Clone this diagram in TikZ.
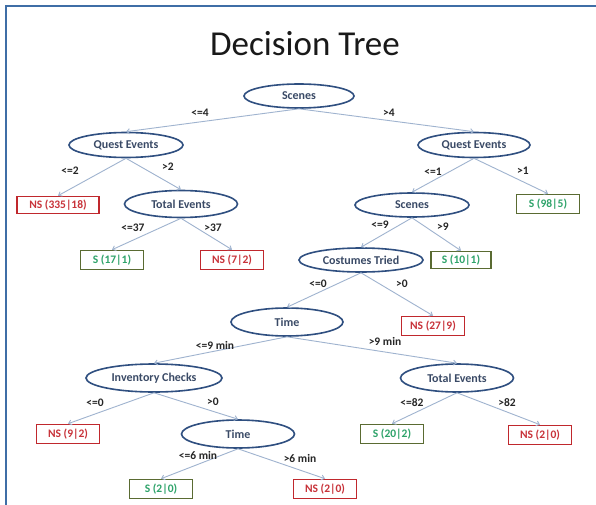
\documentclass[tikz,border=0pt]{standalone}
\usepackage{fontspec}
\setmainfont{Carlito}
\usetikzlibrary{shapes.geometric,arrows.meta}
\definecolor{frameblue}{HTML}{3F6EA6}
\definecolor{ellline}{HTML}{2F4F80}
\definecolor{elltext}{HTML}{3A4A66}
\definecolor{edgecol}{HTML}{9FB3CF}
\definecolor{nsred}{HTML}{C0282D}
\definecolor{nstext}{HTML}{C8333A}
\definecolor{solive}{HTML}{5A6B32}
\definecolor{sgreen}{HTML}{2EA36A}
\tikzset{
  split/.style={ellipse, draw=ellline, line width=1.6pt, text=elltext, inner sep=0pt,
    minimum width=112pt, minimum height=25pt, font=\fontsize{12}{13}\selectfont\bfseries},
  nsleaf/.style={rectangle, draw=nsred, line width=1.6pt, text=nstext, inner sep=0pt,
    minimum width=63pt, minimum height=19pt, font=\fontsize{11.5}{12}\selectfont\bfseries},
  sleaf/.style={rectangle, draw=solive, line width=1.6pt, text=sgreen, inner sep=0pt,
    minimum width=63pt, minimum height=19pt, font=\fontsize{11.5}{12}\selectfont\bfseries},
  cond/.style={text=black!85, inner sep=0pt, font=\fontsize{11.5}{13}\selectfont\bfseries},
  link/.style={draw=edgecol, line width=0.9pt, -{Straight Barb[length=3pt,width=5pt]}},
}
\begin{document}
\begin{tikzpicture}[x=1pt,y=-1pt]
\useasboundingbox (0,0) rectangle (596,505);
\fill[white] (0,0) rectangle (596,505);
\coordinate (ftl) at (6,6);
\coordinate (ftr) at (596,6);
\coordinate (fbl) at (6,505);
\draw[frameblue, line width=2.4pt] (ftr) -- (ftl) -- (fbl);

\node[inner sep=0pt, font=\fontsize{35}{38}\selectfont, text=black!90] (title) at (305,44) {Decision Tree};

% split nodes
\node[split, minimum width=110pt, minimum height=24pt] (scenes) at (299,96) {Scenes};
\node[split, minimum width=114pt] (qel) at (126,145) {Quest Events};
\node[split] (qer) at (474,145) {Quest Events};
\node[split, minimum width=113pt, minimum height=27pt] (tel) at (181,204) {Total Events};
\node[split, minimum width=114pt, minimum height=24pt] (sc2) at (412,205) {Scenes};
\node[split, minimum width=124pt, minimum height=24pt] (cost) at (361,260) {Costumes Tried};
\node[split, minimum width=112pt, minimum height=28pt] (time) at (287,322) {Time};
\node[split, minimum width=136pt, minimum height=28pt] (inv) at (154,378) {Inventory Checks};
\node[split, minimum width=113pt, minimum height=28pt] (ter) at (457,378) {Total Events};
\node[split, minimum width=113pt, minimum height=28pt] (time2) at (238,434) {Time};

% leaves
\node[nsleaf, minimum width=82pt, minimum height=17pt] (l1) at (58,205) {NS (335|18)};
\node[sleaf] (l2) at (112,260) {S (17|1)};
\node[nsleaf] (l3) at (232,260) {NS (7|2)};
\node[sleaf] (l4) at (548,204) {S (98|5)};
\node[sleaf, minimum width=60pt, minimum height=17pt] (l5) at (461,260) {S (10|1)};
\node[nsleaf] (l6) at (433,326) {NS (27|9)};
\node[nsleaf] (l7) at (68,434) {NS (9|2)};
\node[sleaf] (l8) at (392,434) {S (20|2)};
\node[nsleaf] (l9) at (540,435) {NS (2|0)};
\node[sleaf] (l10) at (161,489) {S (2|0)};
\node[nsleaf] (l11) at (325,489) {NS (2|0)};

% connectors
\draw[link] (scenes.south) -- (qel.north);
\draw[link] (scenes.south) -- (qer.north);
\draw[link] (qel.south) -- (l1.north);
\draw[link] (qel.south) -- (tel.north);
\draw[link] (tel.south) -- (l2.north);
\draw[link] (tel.south) -- (l3.north);
\draw[link] (qer.south) -- (sc2.north);
\draw[link] (qer.south) -- (l4.north);
\draw[link] (sc2.south) -- (cost.north);
\draw[link] (sc2.south) -- (l5.north);
\draw[link] (cost.south) -- (time.north);
\draw[link] (cost.south) -- (l6.north);
\draw[link] (time.south) -- (inv.north);
\draw[link] (time.south) -- (ter.north);
\draw[link] (inv.south) -- (l7.north);
\draw[link] (inv.south) -- (time2.north);
\draw[link] (ter.south) -- (l8.north);
\draw[link] (ter.south) -- (l9.north);
\draw[link] (time2.south) -- (l10.north);
\draw[link] (time2.south) -- (l11.north);

% condition labels
\node[cond] (c1) at (200,113) {<=4};
\node[cond] (c2) at (389,113) {>4};
\node[cond] (c3) at (70,171) {<=2};
\node[cond] (c4) at (168,167) {>2};
\node[cond] (c5) at (133,228) {<=37};
\node[cond] (c6) at (213,228) {>37};
\node[cond] (c7) at (433,172) {<=1};
\node[cond] (c8) at (523,171) {>1};
\node[cond] (c9) at (380,225) {<=9};
\node[cond] (c10) at (443,227) {>9};
\node[cond] (c11) at (318,284) {<=0};
\node[cond] (c12) at (402,284) {>0};
\node[cond] (c13) at (215,345) {<=9 min};
\node[cond] (c14) at (385,341) {>9 min};
\node[cond] (c15) at (95,403) {<=0};
\node[cond] (c16) at (213,402) {>0};
\node[cond] (c17) at (412,403) {<=82};
\node[cond] (c18) at (507,403) {>82};
\node[cond] (c19) at (198,456) {<=6 min};
\node[cond] (c20) at (300,459) {>6 min};
\end{tikzpicture}
\end{document}
